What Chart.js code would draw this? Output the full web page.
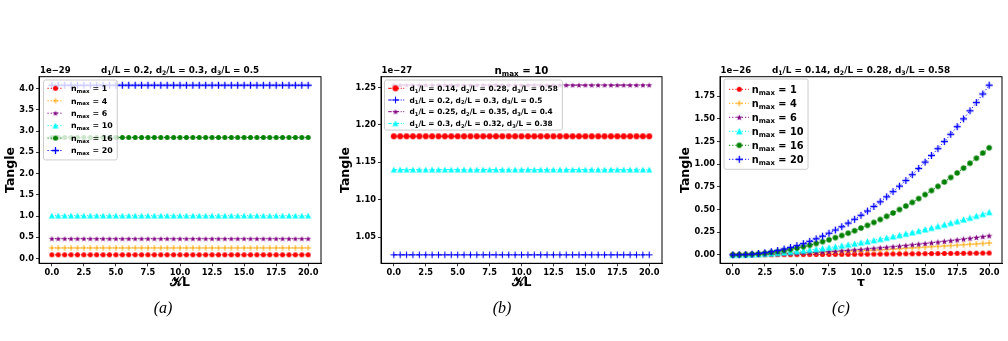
<!DOCTYPE html>
<html><head><meta charset="utf-8">
<script src="https://cdn.jsdelivr.net/npm/chart.js@4.4.0/dist/chart.umd.min.js"></script>
<style>
html,body{margin:0;padding:0;background:#fff;width:1008px;height:341px;overflow:hidden;position:relative}
.pane{position:absolute;top:0;width:336px;height:300px}
.cap{position:absolute;top:299px;font:italic 16px "Liberation Serif",serif;line-height:17px;transform:translateX(-50%);color:#000}
</style></head><body>
<div class="pane" style="left:0px"><canvas id="ca" width="336" height="300"></canvas></div>
<div class="pane" style="left:336px"><canvas id="cb" width="336" height="300"></canvas></div>
<div class="pane" style="left:672px"><canvas id="cc" width="336" height="300"></canvas></div>
<div class="cap" style="left:163px">(a)</div>
<div class="cap" style="left:502px">(b)</div>
<div class="cap" style="left:841px">(c)</div>
<script>
// ---------- DATA ----------
const kappaL = [0,0.5,1,1.5,2,2.5,3,3.5,4,4.5,5,5.5,6,6.5,7,7.5,8,8.5,9,9.5,10,10.5,11,11.5,12,12.5,13,13.5,14,14.5,15,15.5,16,16.5,17,17.5,18,18.5,19,19.5,20];
const tau = [0,0.5,1,1.5,2,2.5,3,3.5,4,4.5,5,5.5,6,6.5,7,7.5,8,8.5,9,9.5,10,10.5,11,11.5,12,12.5,13,13.5,14,14.5,15,15.5,16,16.5,17,17.5,18,18.5,19,19.5,20];

// panel (a): Tangle (x1e-29) vs kL, d1/L=0.2, d2/L=0.3, d3/L=0.5
const a_labels = ["n_{max} = 1","n_{max} = 4","n_{max} = 6","n_{max} = 10","n_{max} = 16","n_{max} = 20"];
const a_n1 = [0.087,0.087,0.087,0.087,0.087,0.087,0.087,0.087,0.087,0.087,
0.087,0.087,0.087,0.087,0.087,0.087,0.087,0.087,0.087,0.087,
0.087,0.087,0.087,0.087,0.087,0.087,0.087,0.087,0.087,0.087,
0.087,0.087,0.087,0.087,0.087,0.087,0.087,0.087,0.087,0.087,0.087];
const a_n4 = [0.25,0.25,0.25,0.25,0.25,0.25,0.25,0.25,0.25,0.25,
0.25,0.25,0.25,0.25,0.25,0.25,0.25,0.25,0.25,0.25,
0.25,0.25,0.25,0.25,0.25,0.25,0.25,0.25,0.25,0.25,
0.25,0.25,0.25,0.25,0.25,0.25,0.25,0.25,0.25,0.25,0.25];
const a_n6 = [0.465,0.465,0.465,0.465,0.465,0.465,0.465,0.465,0.465,0.465,
0.465,0.465,0.465,0.465,0.465,0.465,0.465,0.465,0.465,0.465,
0.465,0.465,0.465,0.465,0.465,0.465,0.465,0.465,0.465,0.465,
0.465,0.465,0.465,0.465,0.465,0.465,0.465,0.465,0.465,0.465,0.465];
const a_n10 = [1.008,1.008,1.008,1.008,1.008,1.008,1.008,1.008,1.008,1.008,
1.008,1.008,1.008,1.008,1.008,1.008,1.008,1.008,1.008,1.008,
1.008,1.008,1.008,1.008,1.008,1.008,1.008,1.008,1.008,1.008,
1.008,1.008,1.008,1.008,1.008,1.008,1.008,1.008,1.008,1.008,1.008];
const a_n16 = [2.85,2.85,2.85,2.85,2.85,2.85,2.85,2.85,2.85,2.85,
2.85,2.85,2.85,2.85,2.85,2.85,2.85,2.85,2.85,2.85,
2.85,2.85,2.85,2.85,2.85,2.85,2.85,2.85,2.85,2.85,
2.85,2.85,2.85,2.85,2.85,2.85,2.85,2.85,2.85,2.85,2.85];
const a_n20 = [4.08,4.08,4.08,4.08,4.08,4.08,4.08,4.08,4.08,4.08,
4.08,4.08,4.08,4.08,4.08,4.08,4.08,4.08,4.08,4.08,
4.08,4.08,4.08,4.08,4.08,4.08,4.08,4.08,4.08,4.08,
4.08,4.08,4.08,4.08,4.08,4.08,4.08,4.08,4.08,4.08,4.08];
const a_yTicks = [0,0.5,1,1.5,2,2.5,3,3.5,4];
const a_yTickLabels = ["0.0","0.5","1.0","1.5","2.0","2.5","3.0","3.5","4.0"];

// panel (b): n_max = 10, Tangle (x1e-27) vs kL for four geometries
const b_labels = ["d_{1}/L = 0.14, d_{2}/L = 0.28, d_{3}/L = 0.58","d_{1}/L = 0.2, d_{2}/L = 0.3, d_{3}/L = 0.5","d_{1}/L = 0.25, d_{2}/L = 0.35, d_{3}/L = 0.4","d_{1}/L = 0.3, d_{2}/L = 0.32, d_{3}/L = 0.38"];
const b_g1 = [1.1848,1.1848,1.1848,1.1848,1.1848,1.1848,1.1848,1.1848,1.1848,1.1848,
1.1848,1.1848,1.1848,1.1848,1.1848,1.1848,1.1848,1.1848,1.1848,1.1848,
1.1848,1.1848,1.1848,1.1848,1.1848,1.1848,1.1848,1.1848,1.1848,1.1848,
1.1848,1.1848,1.1848,1.1848,1.1848,1.1848,1.1848,1.1848,1.1848,1.1848,1.1848];
const b_g2 = [1.0264,1.0264,1.0264,1.0264,1.0264,1.0264,1.0264,1.0264,1.0264,1.0264,
1.0264,1.0264,1.0264,1.0264,1.0264,1.0264,1.0264,1.0264,1.0264,1.0264,
1.0264,1.0264,1.0264,1.0264,1.0264,1.0264,1.0264,1.0264,1.0264,1.0264,
1.0264,1.0264,1.0264,1.0264,1.0264,1.0264,1.0264,1.0264,1.0264,1.0264,1.0264];
const b_g3 = [1.2531,1.2531,1.2531,1.2531,1.2531,1.2531,1.2531,1.2531,1.2531,1.2531,
1.2531,1.2531,1.2531,1.2531,1.2531,1.2531,1.2531,1.2531,1.2531,1.2531,
1.2531,1.2531,1.2531,1.2531,1.2531,1.2531,1.2531,1.2531,1.2531,1.2531,
1.2531,1.2531,1.2531,1.2531,1.2531,1.2531,1.2531,1.2531,1.2531,1.2531,1.2531];
const b_g4 = [1.1402,1.1402,1.1402,1.1402,1.1402,1.1402,1.1402,1.1402,1.1402,1.1402,
1.1402,1.1402,1.1402,1.1402,1.1402,1.1402,1.1402,1.1402,1.1402,1.1402,
1.1402,1.1402,1.1402,1.1402,1.1402,1.1402,1.1402,1.1402,1.1402,1.1402,
1.1402,1.1402,1.1402,1.1402,1.1402,1.1402,1.1402,1.1402,1.1402,1.1402,1.1402];
const b_yTicks = [1.05,1.10,1.15,1.20,1.25];
const b_yTickLabels = ["1.05","1.10","1.15","1.20","1.25"];

// panel (c): Tangle (x1e-26) vs tau, d1/L=0.14, d2/L=0.28, d3/L=0.58
const c_labels = ["n_{max} = 1","n_{max} = 4","n_{max} = 6","n_{max} = 10","n_{max} = 16","n_{max} = 20"];
const c_n1 = [0,0.0001,0.0002,0.0004,0.0006,0.0009,0.0012,0.0015,0.0018,0.0021,
0.0025,0.0029,0.0033,0.0037,0.0041,0.0046,0.0051,0.0055,0.0060,0.0065,
0.0071,0.0076,0.0082,0.0087,0.0093,0.0099,0.0105,0.0111,0.0117,0.0123,
0.0130,0.0136,0.0143,0.0150,0.0157,0.0164,0.0171,0.0178,0.0185,0.0193,0.0200];
const c_n4 = [0,0.001,0.001,0.003,0.004,0.006,0.008,0.010,0.012,0.014,
0.016,0.019,0.021,0.024,0.027,0.030,0.033,0.036,0.039,0.043,
0.046,0.049,0.053,0.057,0.060,0.064,0.068,0.072,0.076,0.080,
0.084,0.089,0.093,0.097,0.102,0.106,0.111,0.116,0.120,0.125,0.130];
const c_n6 = [0,0.000,0.001,0.002,0.003,0.005,0.007,0.009,0.012,0.014,
0.017,0.021,0.024,0.028,0.032,0.036,0.040,0.045,0.050,0.055,
0.060,0.066,0.072,0.078,0.084,0.090,0.097,0.104,0.111,0.118,
0.125,0.133,0.141,0.149,0.157,0.165,0.174,0.183,0.191,0.201,0.210];
const c_n10 = [0,0.001,0.002,0.004,0.007,0.011,0.015,0.020,0.026,0.032,
0.039,0.046,0.054,0.062,0.071,0.080,0.090,0.101,0.112,0.123,
0.135,0.147,0.160,0.174,0.187,0.202,0.216,0.232,0.247,0.263,
0.280,0.297,0.315,0.332,0.351,0.370,0.389,0.408,0.429,0.449,0.470];
const c_n16 = [0,0.001,0.003,0.007,0.012,0.018,0.027,0.036,0.047,0.060,
0.074,0.089,0.106,0.125,0.145,0.166,0.189,0.213,0.239,0.266,
0.295,0.325,0.357,0.390,0.425,0.461,0.499,0.538,0.578,0.620,
0.664,0.709,0.755,0.803,0.853,0.903,0.956,1.010,1.065,1.122,1.180];
const c_n20 = [0,0.001,0.003,0.008,0.015,0.024,0.035,0.048,0.064,0.082,
0.102,0.124,0.149,0.177,0.206,0.238,0.273,0.310,0.350,0.392,
0.436,0.483,0.533,0.585,0.640,0.697,0.757,0.819,0.884,0.952,
1.022,1.095,1.170,1.249,1.329,1.413,1.499,1.588,1.679,1.773,1.870];
const c_yTicks = [0,0.25,0.5,0.75,1,1.25,1.5,1.75];
const c_yTickLabels = ["0.00","0.25","0.50","0.75","1.00","1.25","1.50","1.75"];

const xTicks = [0,2.5,5,7.5,10,12.5,15,17.5,20];
const xTickLabels = ["0.0","2.5","5.0","7.5","10.0","12.5","15.0","17.5","20.0"];

// ---------- RENDERING HELPERS ----------
const FAM = '"DejaVu Sans"';
Chart.defaults.font.family = FAM;
Chart.defaults.color = '#000';

function marker(type, size, color, lw) {
  const S = Math.ceil(size + 4);
  const c = document.createElement('canvas'); c.width = S; c.height = S;
  const g = c.getContext('2d'); const cx = S / 2, cy = S / 2, r = size / 2;
  g.fillStyle = color; g.strokeStyle = color; g.lineWidth = lw || 1;
  g.beginPath();
  if (type === 'o') { g.arc(cx, cy, r, 0, Math.PI * 2); g.fill(); }
  else if (type === '+') { g.moveTo(cx - r, cy); g.lineTo(cx + r, cy); g.moveTo(cx, cy - r); g.lineTo(cx, cy + r); g.stroke(); }
  else if (type === '^') { g.moveTo(cx, cy - r); g.lineTo(cx + r, cy + r * 0.9); g.lineTo(cx - r, cy + r * 0.9); g.closePath(); g.fill(); }
  else if (type === '*') {
    for (let i = 0; i < 10; i++) {
      const rr = i % 2 === 0 ? r * 1.05 : r * 0.42;
      const a = -Math.PI / 2 + i * Math.PI / 5;
      const px = cx + rr * Math.cos(a), py = cy + rr * Math.sin(a) + r * 0.1;
      if (i === 0) g.moveTo(px, py); else g.lineTo(px, py);
    }
    g.closePath(); g.fill();
  }
  return c;
}

function parseRich(s) {
  const parts = []; const re = /_\{([^}]*)\}/g; let last = 0, m;
  while ((m = re.exec(s))) {
    if (m.index > last) parts.push({ t: s.slice(last, m.index), sub: false });
    parts.push({ t: m[1], sub: true }); last = re.lastIndex;
  }
  if (last < s.length) parts.push({ t: s.slice(last), sub: false });
  return parts;
}
function measureRich(ctx, s, size) {
  let w = 0;
  parseRich(s).forEach(p => { ctx.font = 'bold ' + (p.sub ? size * 0.7 : size) + 'px ' + FAM; w += ctx.measureText(p.t).width; });
  return w;
}
function drawRich(ctx, s, x, yc, size, align) {
  const parts = parseRich(s);
  const w = measureRich(ctx, s, size);
  let cx = align === 'center' ? x - w / 2 : (align === 'right' ? x - w : x);
  const base = yc + size * 0.36;
  ctx.textAlign = 'left'; ctx.textBaseline = 'alphabetic'; ctx.fillStyle = '#000';
  parts.forEach(p => {
    const sz = p.sub ? size * 0.7 : size;
    ctx.font = 'bold ' + sz + 'px ' + FAM;
    ctx.fillText(p.t, cx, base + (p.sub ? size * 0.24 : 0));
    cx += ctx.measureText(p.t).width;
  });
}

function buildChart(id, P) {
  const datasets = P.series.map((s, i) => ({
    label: s.label,
    data: P.x.map((xv, j) => ({ x: xv, y: s.y[j] })),
    borderColor: s.color, backgroundColor: s.color,
    borderWidth: 1, borderDash: P.dash,
    pointStyle: s.img, pointRadius: 3, pointHoverRadius: 3,
    fill: false, tension: 0, order: -i
  }));

  const deco = {
    id: 'deco',
    afterDatasetsDraw(chart) {
      const ctx = chart.ctx, ca = chart.chartArea;
      ctx.save();
      ctx.strokeStyle = '#000'; ctx.lineWidth = 1; ctx.setLineDash([]);
      ctx.strokeRect(ca.left, ca.top, ca.right - ca.left, ca.bottom - ca.top);
      // legend
      const L = P.legend;
      let maxW = 0;
      P.series.forEach(s => { maxW = Math.max(maxW, measureRich(ctx, s.label, L.font)); });
      const bx = ca.left + L.dx, by = ca.top + L.dy;
      const bw = L.tx + maxW + L.padR;
      const bh = L.first + (P.series.length - 1) * L.row + L.padB;
      ctx.beginPath();
      if (ctx.roundRect) ctx.roundRect(bx, by, bw, bh, 2); else ctx.rect(bx, by, bw, bh);
      ctx.fillStyle = 'rgba(255,255,255,0.8)'; ctx.fill();
      ctx.strokeStyle = '#cccccc'; ctx.lineWidth = 1; ctx.stroke();
      P.series.forEach((s, i) => {
        const yy = by + L.first + i * L.row;
        ctx.beginPath(); ctx.setLineDash(P.dash); ctx.strokeStyle = s.color; ctx.lineWidth = 1;
        ctx.moveTo(bx + L.x0, yy); ctx.lineTo(bx + L.x1, yy); ctx.stroke(); ctx.setLineDash([]);
        const im = s.img; ctx.drawImage(im, bx + L.mx - im.width / 2, yy - im.height / 2);
        drawRich(ctx, s.label, bx + L.tx, yy, L.font, 'left');
      });
      ctx.restore();
    },
    afterDraw(chart) {
      const ctx = chart.ctx, ca = chart.chartArea;
      ctx.save();
      drawRich(ctx, P.title, (ca.left + ca.right) / 2 + P.titleDx, ca.top - 6.7, P.titleSize, 'center');
      ctx.font = 'bold 8.5px ' + FAM; ctx.fillStyle = '#000'; ctx.textAlign = 'left'; ctx.textBaseline = 'middle';
      ctx.fillText(P.offsetText, ca.left + P.offDx, ca.top - 5.7);
      ctx.restore();
    }
  };

  const tickFont = { family: FAM, size: 8.3, weight: 'bold' };
  const titleFont = { family: FAM, size: 12.5, weight: 'bold' };
  return new Chart(document.getElementById(id), {
    type: 'line',
    data: { datasets },
    options: {
      responsive: false, animation: false, devicePixelRatio: 1,
      layout: { padding: { left: 0, top: 76.7, right: P.padRight, bottom: 0 } },
      plugins: { legend: { display: false }, tooltip: { enabled: false } },
      scales: {
        x: {
          type: 'linear', min: -1, max: 21,
          afterBuildTicks: s => { s.ticks = xTicks.map(v => ({ value: v })); },
          afterFit: s => { s.height = 36.7; },
          ticks: { callback: (v, i) => xTickLabels[i], font: tickFont, color: '#000', padding: 2, maxRotation: 0, autoSkip: false },
          grid: { display: true, drawOnChartArea: false, drawTicks: true, tickLength: 3, color: '#000', tickColor: '#000', tickWidth: 0.8 },
          border: { display: true, color: '#000', width: 1 },
          title: { display: true, text: P.xTitle, font: titleFont, color: '#000', padding: { top: 0, bottom: 9.8 } }
        },
        y: {
          type: 'linear', min: P.yMin, max: P.yMax,
          afterBuildTicks: s => { s.ticks = P.yTicks.map(v => ({ value: v })); },
          afterFit: s => { s.width = P.yWidth; },
          ticks: { callback: (v, i) => P.yTickLabels[i], font: tickFont, color: '#000', padding: 2, autoSkip: false },
          grid: { display: true, drawOnChartArea: false, drawTicks: true, tickLength: 3, color: '#000', tickColor: '#000', tickWidth: 0.8 },
          border: { display: true, color: '#000', width: 1 },
          title: { display: true, text: 'Tangle', font: titleFont, color: '#000', padding: { top: P.yTitlePad, bottom: 0 } }
        }
      }
    },
    plugins: [deco]
  });
}

const RED = '#ff0000', ORANGE = '#ffa500', PURPLE = '#800080', CYAN = '#00ffff', GREEN = '#008000', BLUE = '#0000ff';
const DOT = [1.2, 2];
const DASHDOT = [3.5, 1.5, 1, 1.5];

buildChart('ca', {
  x: kappaL, dash: DOT, yMin: -0.113, yMax: 4.28, yTicks: a_yTicks, yTickLabels: a_yTickLabels,
  yWidth: 39, padRight: 15, yTitlePad: 3.5, xTitle: '𝒦L',
  title: 'd_{1}/L = 0.2, d_{2}/L = 0.3, d_{3}/L = 0.5', titleSize: 8.8, titleDx: 0, offsetText: '1e\u221229', offDx: 1,
  legend: { font: 7.9, dx: 4.5, dy: 3.3, first: 8.3, row: 12.45, padB: 9.4, x0: 4, x1: 19.5, mx: 12, tx: 27.5, padR: 4.5 },
  series: [
    { label: a_labels[0], y: a_n1, color: RED, img: marker('o', 5, RED) },
    { label: a_labels[1], y: a_n4, color: ORANGE, img: marker('+', 5.5, ORANGE, 1) },
    { label: a_labels[2], y: a_n6, color: PURPLE, img: marker('*', 6, PURPLE) },
    { label: a_labels[3], y: a_n10, color: CYAN, img: marker('^', 6, CYAN) },
    { label: a_labels[4], y: a_n16, color: GREEN, img: marker('o', 5, GREEN) },
    { label: a_labels[5], y: a_n20, color: BLUE, img: marker('+', 7, BLUE, 1.3) }
  ]
});

buildChart('cb', {
  x: kappaL, dash: DASHDOT, yMin: 1.0151, yMax: 1.2644, yTicks: b_yTicks, yTickLabels: b_yTickLabels,
  yWidth: 45, padRight: 10, yTitlePad: 2.5, xTitle: '𝒦L',
  title: 'n_{max} = 10', titleSize: 10.2, titleDx: 0, offsetText: '1e\u221227', offDx: 0.5,
  legend: { font: 7.4, dx: 3.5, dy: 3.3, first: 8.3, row: 11.7, padB: 6.7, x0: 3.7, x1: 19.7, mx: 11, tx: 25, padR: 4.5 },
  series: [
    { label: b_labels[0], y: b_g1, color: RED, img: marker('o', 6, RED) },
    { label: b_labels[1], y: b_g2, color: BLUE, img: marker('+', 6.5, BLUE, 1.1) },
    { label: b_labels[2], y: b_g3, color: PURPLE, img: marker('*', 6, PURPLE) },
    { label: b_labels[3], y: b_g4, color: CYAN, img: marker('^', 6, CYAN) }
  ]
});

buildChart('cc', {
  x: tau, dash: DOT, yMin: -0.0935, yMax: 1.9635, yTicks: c_yTicks, yTickLabels: c_yTickLabels,
  yWidth: 48, padRight: 6, yTitlePad: 6.5, xTitle: 'τ',
  title: 'd_{1}/L = 0.14, d_{2}/L = 0.28, d_{3}/L = 0.58', titleSize: 8.9, titleDx: 0, offsetText: '1e\u221226', offDx: 0.5,
  legend: { font: 9.8, dx: 4, dy: 2.3, first: 10.3, row: 14, padB: 10, x0: 5, x1: 25, mx: 15.3, tx: 27.7, padR: 4.5 },
  series: [
    { label: c_labels[0], y: c_n1, color: RED, img: marker('o', 5, RED) },
    { label: c_labels[1], y: c_n4, color: ORANGE, img: marker('+', 6, ORANGE, 1) },
    { label: c_labels[2], y: c_n6, color: PURPLE, img: marker('*', 6.5, PURPLE) },
    { label: c_labels[3], y: c_n10, color: CYAN, img: marker('^', 6.5, CYAN) },
    { label: c_labels[4], y: c_n16, color: GREEN, img: marker('o', 5.5, GREEN) },
    { label: c_labels[5], y: c_n20, color: BLUE, img: marker('+', 7, BLUE, 1.3) }
  ]
});
</script>
</body></html>
